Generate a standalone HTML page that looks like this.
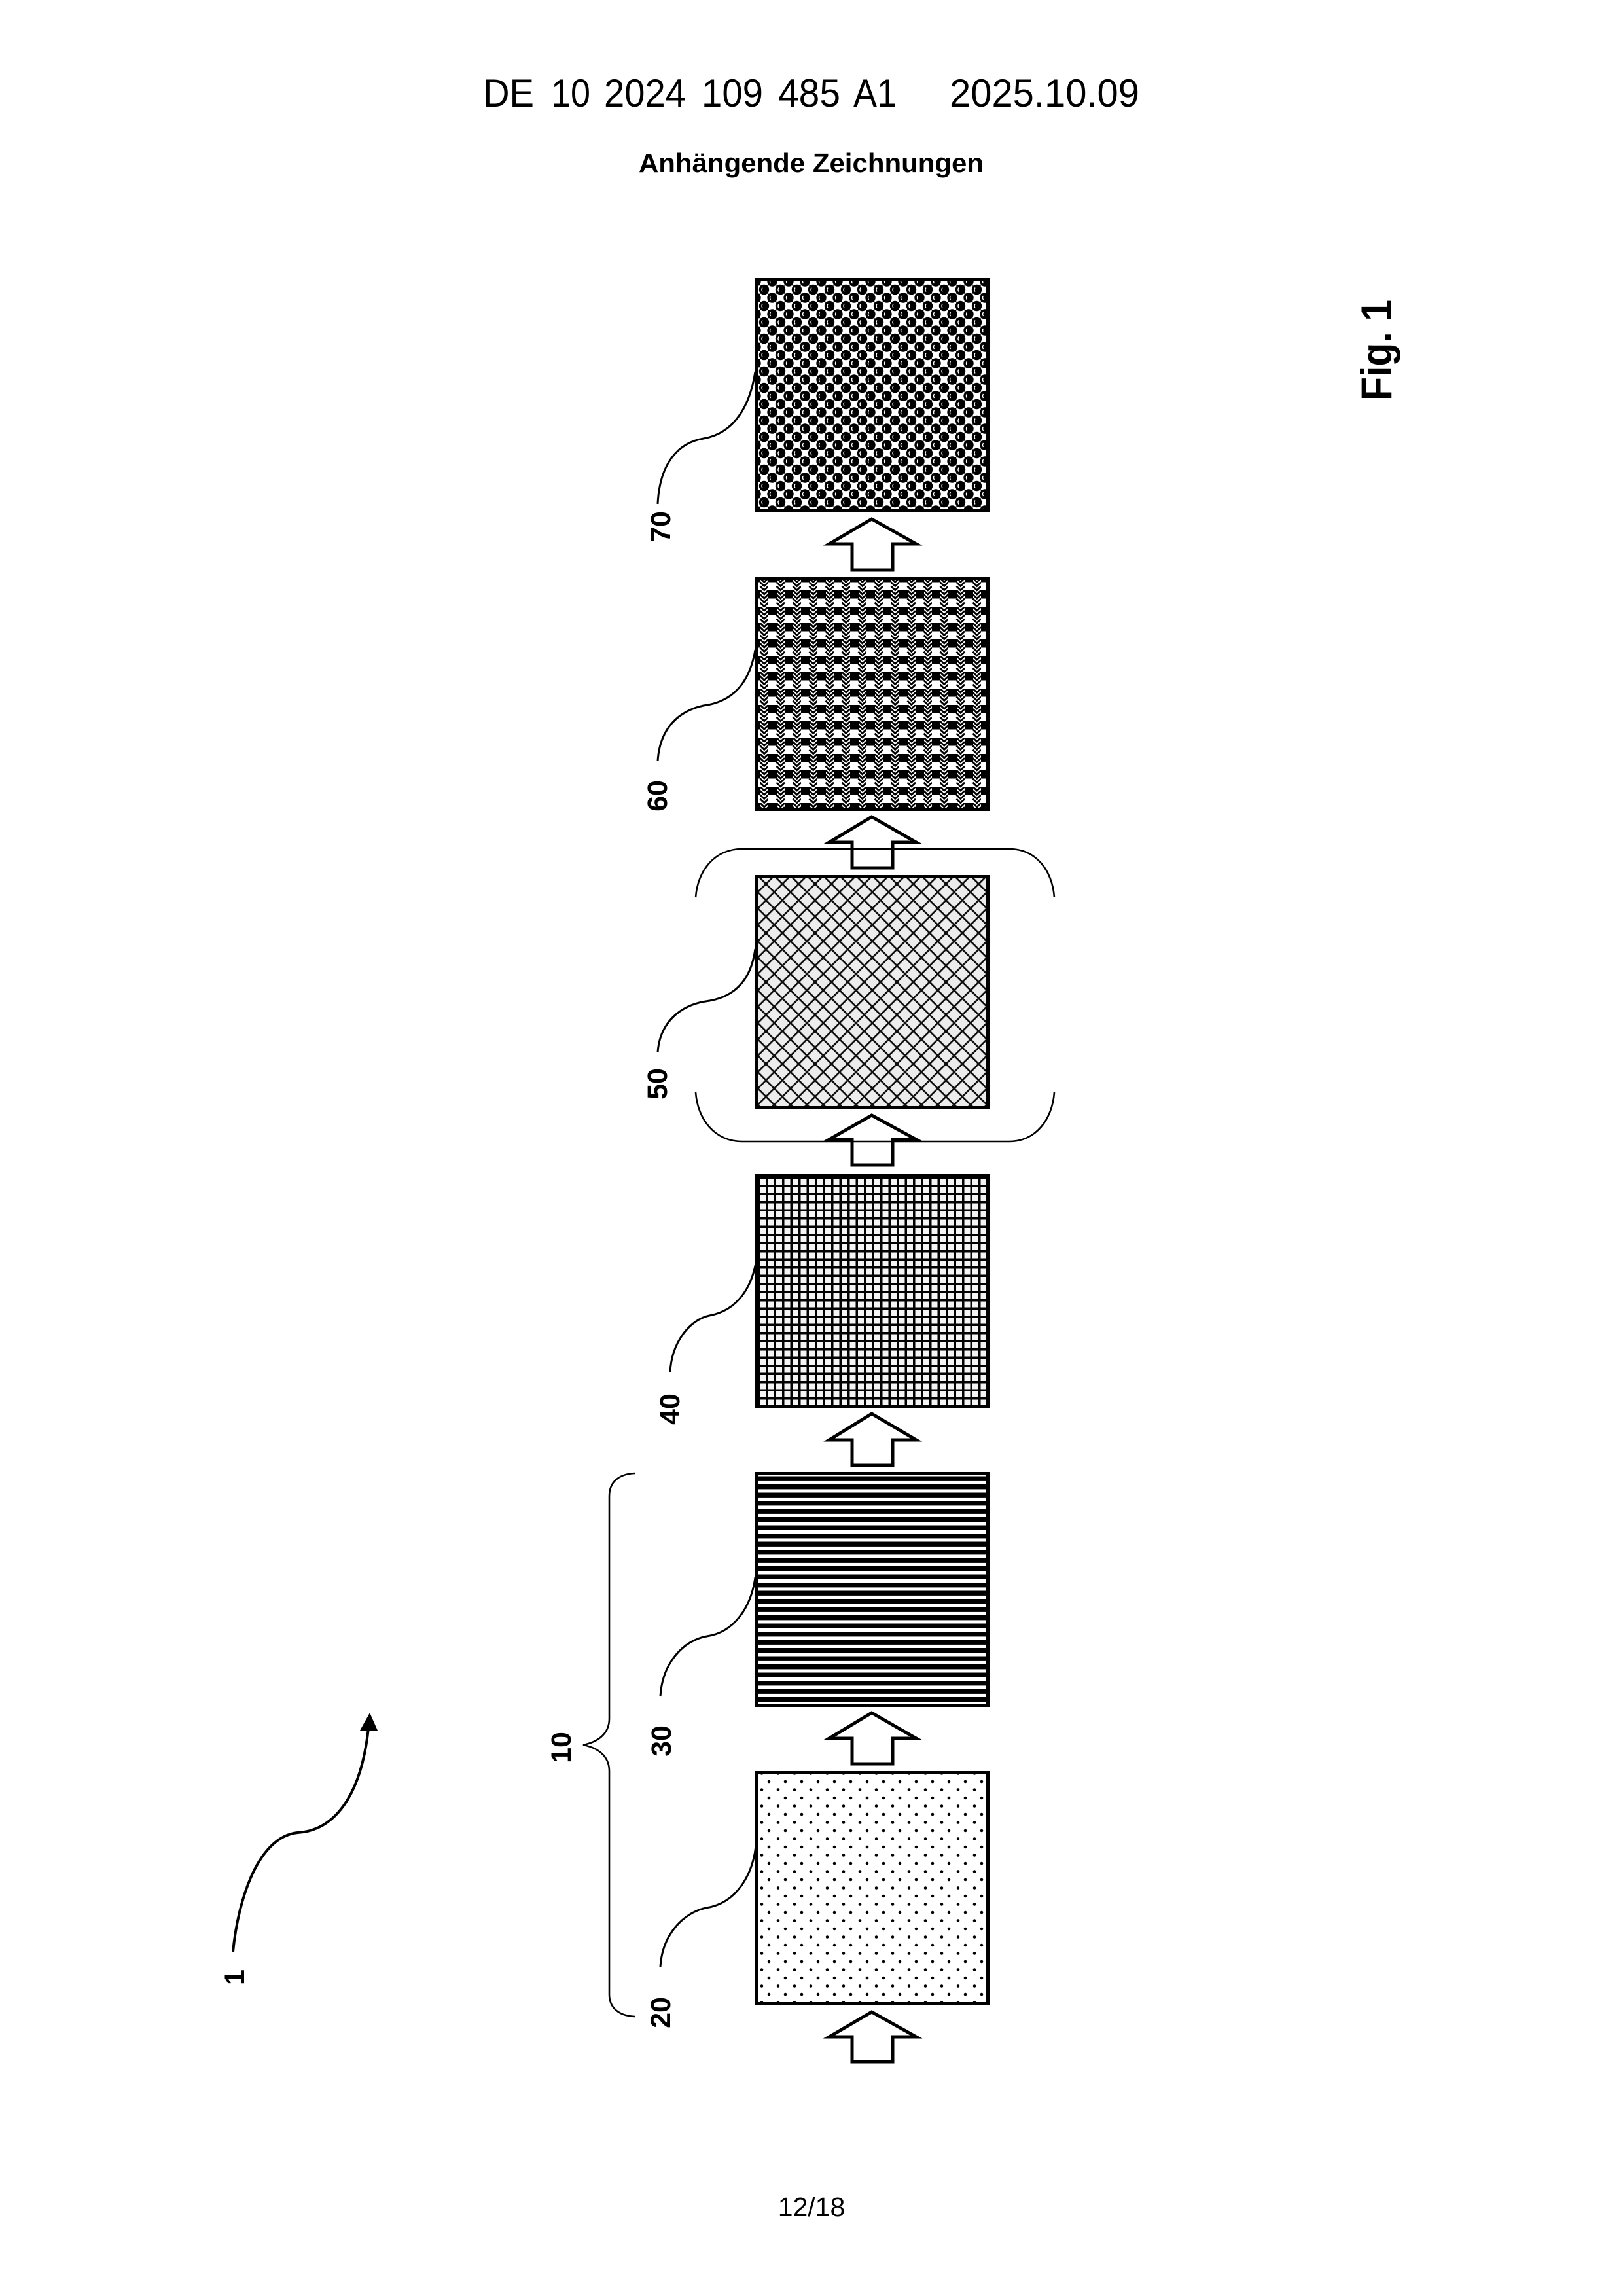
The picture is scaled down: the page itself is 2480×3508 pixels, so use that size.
<!DOCTYPE html>
<html lang="de">
<head>
<meta charset="utf-8">
<title>DE 10 2024 109 485 A1</title>
<style>
html,body{margin:0;padding:0;background:#fff}
svg{display:block}
text{font-family:"Liberation Sans",sans-serif;fill:#000}
.hd{font-size:60px}
.lab{font-size:43px;font-weight:bold;text-anchor:middle}
.lead{fill:none;stroke:#000;stroke-width:3}
.brk{fill:none;stroke:#000;stroke-width:2.6}
.arr{fill:#fff;stroke:#000;stroke-width:5;stroke-linejoin:miter;stroke-miterlimit:10}
.box{stroke:#000;stroke-width:5}
</style>
</head>
<body>
<svg xmlns="http://www.w3.org/2000/svg" width="2480" height="3508" viewBox="0 0 2480 3508">
<defs>
  <pattern id="p20" patternUnits="userSpaceOnUse" width="25" height="25" patternTransform="translate(1164,2722)">
    <rect width="25" height="25" fill="#fff"/>
    <circle cx="11" cy="0" r="2.3" fill="#000"/><circle cx="11" cy="25" r="2.3" fill="#000"/>
    <circle cx="0" cy="12.5" r="2.3" fill="#000"/><circle cx="25" cy="12.5" r="2.3" fill="#000"/>
  </pattern>
  <pattern id="p30" patternUnits="userSpaceOnUse" width="25" height="25" patternTransform="translate(1153,2255.5)">
    <rect width="25" height="25" fill="#fff"/>
    <rect y="0" width="25" height="7.4" fill="#000"/>
    <rect y="12.5" width="25" height="7.4" fill="#000"/>
  </pattern>
  <pattern id="p40" patternUnits="userSpaceOnUse" width="12.5" height="12.5" patternTransform="translate(1153,1793)">
    <rect width="12.5" height="12.5" fill="#f4f4f4"/>
    <rect x="4.5" y="0" width="3.5" height="12.5" fill="#000"/>
    <rect x="0" y="4.5" width="12.5" height="3.5" fill="#000"/>
  </pattern>
  <pattern id="p50" patternUnits="userSpaceOnUse" width="25" height="25" patternTransform="translate(1158,1338)">
    <rect width="25" height="25" fill="#ececec"/>
    <path d="M-1 -1L26 26M26 -1L-1 26M-5 20L5 30M20 -5L30 5M-5 5L5 -5M20 30L30 20" fill="none" stroke="#111" stroke-width="2.7"/>
  </pattern>
  <pattern id="p60" patternUnits="userSpaceOnUse" width="25" height="25" patternTransform="translate(1174,902)">
    <rect width="25" height="25" fill="#fff"/>
    <rect x="0" y="0" width="13" height="12.5" fill="#000"/>
    <path d="M12.5 -6.25L18.75 -0.25L25 -6.25M12.5 0L18.75 6L25 0M12.5 6.25L18.75 12.25L25 6.25M12.5 12.5L18.75 18.5L25 12.5M12.5 18.75L18.75 24.75L25 18.75" fill="none" stroke="#000" stroke-width="2.7"/>
  </pattern>
  <pattern id="p70" patternUnits="userSpaceOnUse" width="25" height="25" patternTransform="translate(1155,430)">
    <rect width="25" height="25" fill="#fff"/>
    <g fill="#000">
      <rect x="6.25" y="6.25" width="12.5" height="12.5"/>
      <rect x="-6.25" y="-6.25" width="12.5" height="12.5"/><rect x="18.75" y="-6.25" width="12.5" height="12.5"/>
      <rect x="-6.25" y="18.75" width="12.5" height="12.5"/><rect x="18.75" y="18.75" width="12.5" height="12.5"/>
      <circle cx="0" cy="0" r="7.7"/><circle cx="25" cy="0" r="7.7"/><circle cx="0" cy="25" r="7.7"/><circle cx="25" cy="25" r="7.7"/>
      <circle cx="12.5" cy="12.5" r="7.7"/>
    </g>
    <g fill="none" stroke="#fff" stroke-width="1.4">
      <path d="M10 9.5Q8 12.5 10 15.5"/>
      <path d="M-2.5 -3Q-4.5 0 -2.5 3"/><path d="M22.5 -3Q20.5 0 22.5 3"/>
      <path d="M-2.5 22Q-4.5 25 -2.5 28"/><path d="M22.5 22Q20.5 25 22.5 28"/>
    </g>
  </pattern>
</defs>

<rect width="2480" height="3508" fill="#fff"/>

<!-- Header -->
<text class="hd" x="738" y="163" textLength="78" lengthAdjust="spacingAndGlyphs">DE</text>
<text class="hd" x="842" y="163" textLength="60" lengthAdjust="spacingAndGlyphs">10</text>
<text class="hd" x="923" y="163" textLength="125" lengthAdjust="spacingAndGlyphs">2024</text>
<text class="hd" x="1072" y="163" textLength="94" lengthAdjust="spacingAndGlyphs">109</text>
<text class="hd" x="1189" y="163" textLength="95" lengthAdjust="spacingAndGlyphs">485</text>
<text class="hd" x="1304" y="163" textLength="66" lengthAdjust="spacingAndGlyphs">A1</text>
<text class="hd" x="1451" y="163" textLength="290" lengthAdjust="spacingAndGlyphs">2025.10.09</text>
<text x="976" y="263" font-size="41" font-weight="bold" textLength="527" lengthAdjust="spacingAndGlyphs">Anhängende Zeichnungen</text>
<text x="1240" y="3386" font-size="41" text-anchor="middle">12/18</text>

<!-- Fig. label -->
<text transform="translate(2126,612) rotate(-90)" font-size="66" font-weight="bold" textLength="154" lengthAdjust="spacingAndGlyphs">Fig. 1</text>

<!-- Boxes -->
<rect class="box" x="1155.5" y="427.5" width="354" height="353" fill="url(#p70)"/>
<rect class="box" x="1155.5" y="883.5" width="354" height="353" fill="url(#p60)"/>
<rect class="box" x="1155.5" y="1339.5" width="354" height="353" fill="url(#p50)"/>
<rect class="box" x="1155.5" y="1795.5" width="354" height="353" fill="url(#p40)"/>
<rect class="box" x="1155.5" y="2251.5" width="354" height="354" fill="url(#p30)"/>
<rect class="box" x="1155.5" y="2708.5" width="354" height="353" fill="url(#p20)"/>

<!-- Block arrows -->
<polygon class="arr" points="1332,793 1400,831 1364,831 1364,871 1302,871 1302,831 1267,831"/>
<polygon class="arr" points="1332,1248 1400,1287 1364,1287 1364,1326 1302,1326 1302,1287 1267,1287"/>
<polygon class="arr" points="1332,1704 1400,1741 1364,1741 1364,1780 1302,1780 1302,1741 1267,1741"/>
<polygon class="arr" points="1332,2160 1400,2200 1364,2200 1364,2239 1302,2239 1302,2200 1267,2200"/>
<polygon class="arr" points="1332,2617 1400,2656 1364,2656 1364,2695 1302,2695 1302,2656 1267,2656"/>
<polygon class="arr" points="1332,3074 1400,3112 1364,3112 1364,3150 1302,3150 1302,3112 1267,3112"/>

<!-- Brackets around 50 -->
<path class="brk" d="M1063 1371C1066 1330 1092 1297 1134 1297L1542 1297C1583 1297 1608 1330 1611 1371"/>
<path class="brk" d="M1063 1669C1066 1710 1092 1744 1134 1744L1542 1744C1583 1744 1608 1710 1611 1669"/>

<!-- Curly brace 10 -->
<path class="brk" d="M970 2251C946 2252 931 2264 931 2286L931 2626C931 2650 912 2662 891 2666C912 2670 931 2682 931 2706L931 3047C931 3068 946 3080 970 3081"/>

<!-- Leader curves -->
<path class="lead" d="M1154 568C1146 620 1122 662 1075 670C1038 676 1008 706 1005 770"/>
<path class="lead" d="M1154 993C1146 1040 1122 1072 1075 1078C1038 1086 1008 1112 1005 1163"/>
<path class="lead" d="M1154 1450C1148 1495 1125 1524 1078 1530C1040 1536 1008 1562 1005 1608"/>
<path class="lead" d="M1156 1923C1150 1965 1128 2002 1084 2010C1055 2016 1026 2050 1024 2097"/>
<path class="lead" d="M1154 2410C1148 2455 1122 2494 1080 2500C1045 2506 1012 2540 1009 2592"/>
<path class="lead" d="M1155 2820C1150 2865 1125 2908 1079 2915C1045 2922 1012 2955 1009 3005"/>

<!-- Process curve with arrowhead -->
<path d="M356 2982C364 2900 395 2806 455 2800C510 2797 552 2745 563 2640" fill="none" stroke="#000" stroke-width="4"/>
<polygon points="565,2617 577,2644 550,2644" fill="#000"/>

<!-- Reference labels -->
<text class="lab" transform="translate(1024,805) rotate(-90)">70</text>
<text class="lab" transform="translate(1019,1216) rotate(-90)">60</text>
<text class="lab" transform="translate(1019,1656) rotate(-90)">50</text>
<text class="lab" transform="translate(1038,2153) rotate(-90)">40</text>
<text class="lab" transform="translate(1025,2660) rotate(-90)">30</text>
<text class="lab" transform="translate(1024,3075) rotate(-90)">20</text>
<text class="lab" transform="translate(872,2670) rotate(-90)">10</text>
<text class="lab" transform="translate(373,3021) rotate(-90)">1</text>
</svg>
</body>
</html>
